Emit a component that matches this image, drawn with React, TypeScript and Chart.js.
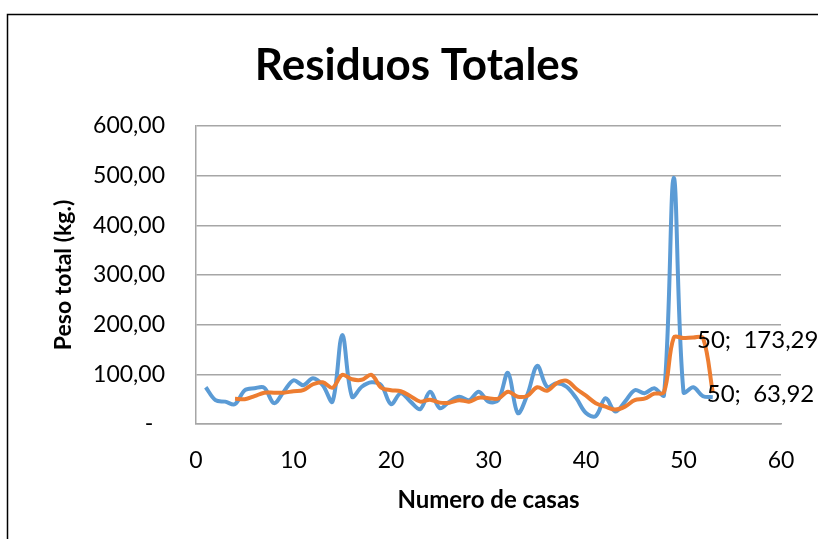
import React, { useEffect, useRef } from 'react';
import { Chart, registerables } from 'chart.js';

Chart.register(...registerables);

// ---------- Data ----------
const chartTitle = 'Residuos Totales';
const xAxisTitle = 'Numero de casas';
const yAxisTitle = 'Peso total (kg.)';

const casas = [
  1, 2, 3, 4, 5, 6, 7, 8, 9, 10,
  11, 12, 13, 14, 15, 16, 17, 18, 19, 20,
  21, 22, 23, 24, 25, 26, 27, 28, 29, 30,
  31, 32, 33, 34, 35, 36, 37, 38, 39, 40,
  41, 42, 43, 44, 45, 46, 47, 48, 49, 50,
  51, 52, 53,
];
const residuos = [
  74, 48, 45, 40, 68, 72, 73, 42, 65, 88,
  78, 92, 78, 45, 179, 55, 75, 84, 78, 40,
  62, 45, 30, 65, 32, 45, 55, 48, 65, 45,
  48, 103, 22, 60, 117, 75, 82, 75, 52, 22,
  16, 52, 25, 45, 68, 62, 72, 58, 496, 64,
  74, 56, 54,
];

const casasMedia = [
  4, 5, 6, 7, 8, 9, 10, 11, 12, 13,
  14, 15, 16, 17, 18, 19, 20, 21, 22, 23,
  24, 25, 26, 27, 28, 29, 30, 31, 32, 33,
  34, 35, 36, 37, 38, 39, 40, 41, 42, 43,
  44, 45, 46, 47, 48, 49, 50, 51, 52, 53,
];
const mediaMovil = [
  51, 50, 56, 63, 63, 63, 66, 68, 80, 84,
  73, 99, 90, 89, 99, 73, 68, 66, 56, 45,
  49, 43, 43, 48, 45, 53, 52, 51, 65, 55,
  57, 74, 67, 82, 87, 71, 57, 42, 35, 29,
  35, 48, 51, 61, 64, 174, 173, 174, 173.29, 63.92,
];

// data labels shown on the last two points of the orange series
const labelIndices = [48, 49];
const labelTexts = ['50;  173,29', '50;  63,92'];

const yMin = 0;
const yMax = 600;
const yStep = 100;
const xMin = 0;
const xMax = 60;
const xStep = 10;

const FONT = 'Lato, "Open Sans", sans-serif';

export default function App() {
  const canvasRef = useRef<HTMLCanvasElement | null>(null);

  useEffect(() => {
    document.body.style.margin = '0';
    const canvas = canvasRef.current;
    if (!canvas) return;

    const frame = {
      id: 'frame',
      beforeDraw(chart: any) {
        const ctx = chart.ctx;
        ctx.save();
        ctx.fillStyle = '#ffffff';
        ctx.fillRect(0, 0, chart.width, chart.height);
        ctx.strokeStyle = '#000000';
        ctx.lineWidth = 1.5;
        ctx.beginPath();
        ctx.moveTo(7.5, chart.height);
        ctx.lineTo(7.5, 14.5);
        ctx.lineTo(chart.width, 14.5);
        ctx.stroke();
        ctx.restore();
      },
    };

    const titlePlugin = {
      id: 'customTitle',
      afterDraw(chart: any) {
        const ctx = chart.ctx;
        ctx.save();
        ctx.fillStyle = '#000000';
        ctx.font = `bold 44px ${FONT}`;
        ctx.textAlign = 'center';
        ctx.textBaseline = 'middle';
        ctx.fillText(chartTitle, 417, 66);
        ctx.restore();
      },
    };

    const labelPlugin = {
      id: 'pointLabels',
      afterDatasetsDraw(chart: any) {
        const meta = chart.getDatasetMeta(0);
        const ctx = chart.ctx;
        ctx.save();
        ctx.fillStyle = '#000000';
        ctx.font = `24px ${FONT}`;
        ctx.textAlign = 'left';
        ctx.textBaseline = 'middle';
        labelIndices.forEach((idx, i) => {
          const el = meta.data[idx];
          if (!el) return;
          ctx.fillText(labelTexts[i], el.x - 6, el.y + 2);
        });
        ctx.restore();
      },
    };

    const chart = new Chart(canvas, {
      type: 'scatter',
      data: {
        datasets: [
          {
            label: 'Media móvil',
            data: casasMedia.map((x, i) => ({ x, y: mediaMovil[i] })),
            showLine: true,
            borderColor: '#ED7D31',
            backgroundColor: '#ED7D31',
            borderWidth: 4,
            pointRadius: 0,
            tension: 0.35,
            order: 0,
          },
          {
            label: 'Residuos',
            data: casas.map((x, i) => ({ x, y: residuos[i] })),
            showLine: true,
            borderColor: '#5B9BD5',
            backgroundColor: '#5B9BD5',
            borderWidth: 4,
            pointRadius: 0,
            tension: 0.35,
            order: 1,
          },
        ],
      },
      options: {
        responsive: false,
        animation: false,
        layout: { padding: { left: 0, top: 126, right: 37, bottom: 0 } },
        plugins: {
          legend: { display: false },
          title: { display: false },
          tooltip: { enabled: false },
        },
        scales: {
          x: {
            type: 'linear',
            min: xMin,
            max: xMax,
            afterFit: (s: any) => { s.height = 115; },
            ticks: {
              stepSize: xStep,
              color: '#000000',
              font: { family: FONT, size: 23 },
              padding: 23,
              maxRotation: 0,
            },
            grid: { display: false, drawTicks: false },
            border: { display: true, color: '#a6a6a6', width: 1.5 },
            title: {
              display: true,
              text: xAxisTitle,
              color: '#000000',
              font: { family: FONT, size: 24, weight: 'bold' },
              padding: { top: 0, bottom: 24 },
            },
          },
          y: {
            type: 'linear',
            min: yMin,
            max: yMax,
            afterFit: (s: any) => { s.width = 196; },
            ticks: {
              stepSize: yStep,
              color: '#000000',
              font: { family: FONT, size: 23 },
              padding: 31,
              callback: (v: any) =>
                Number(v) === 0 ? '-  ' : Number(v).toFixed(2).replace('.', ','),
            },
            grid: { color: '#a6a6a6', lineWidth: 1.5, drawTicks: false },
            border: { display: true, color: '#a6a6a6', width: 1.5 },
            title: {
              display: true,
              text: yAxisTitle,
              color: '#000000',
              font: { family: FONT, size: 23, weight: 'bold' },
              padding: { top: 50, bottom: 0 },
            },
          },
        },
      },
      plugins: [frame, titlePlugin, labelPlugin],
    });

    return () => {
      chart.destroy();
    };
  }, []);

  return (
    <div style={{ width: 818, height: 539 }}>
      <canvas ref={canvasRef} width={818} height={539} style={{ display: 'block' }} />
    </div>
  );
}
